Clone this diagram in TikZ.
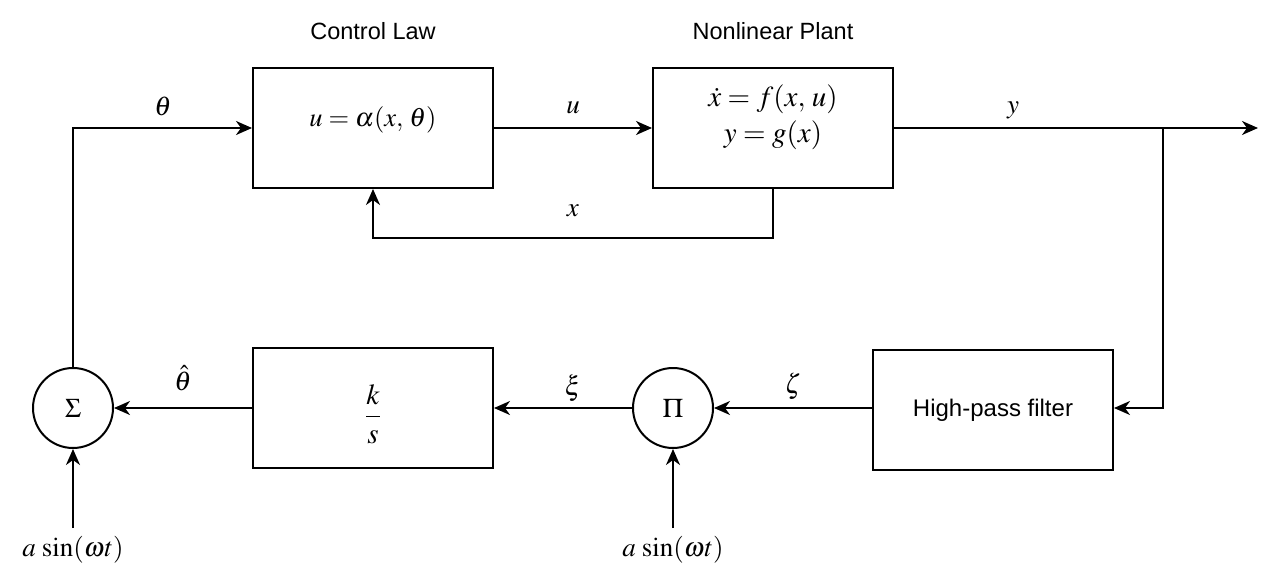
\documentclass[tikz,border=0pt]{standalone}
\usepackage{mathptmx}
\usepackage[no-math]{fontspec}
\newfontfamily\lab{Liberation Sans}
\usetikzlibrary{arrows.meta}
\tikzset{
  every picture/.style={line width=2pt},
  blk/.style={draw, line width=2pt, minimum width=240pt, minimum height=120pt, inner sep=0pt},
  junc/.style={draw, circle, line width=2pt, minimum size=80pt, inner sep=0pt, font=\fontsize{27}{30}\selectfont},
  lbl/.style={font=\fontsize{27}{30}\selectfont, inner sep=0pt},
  ttl/.style={font=\lab\fontsize{23.5}{27}\selectfont, inner sep=0pt},
  conn/.style={line width=2pt, -{Stealth[length=16pt,width=14pt,inset=5pt]}}
}
\begin{document}
\begin{tikzpicture}[x=1pt,y=-1pt]
\useasboundingbox (0,0) rectangle (1274,578);
% blocks
\node[blk] (cl) at (373,128) {};
\node[lbl, font=\fontsize{26.5}{30}\selectfont] (clt) at (373,120) {$u=\alpha(x,\,\theta)$};
\node[blk] (pl) at (773,128) {};
\node[lbl, align=center, font=\fontsize{29}{33}\selectfont] (plt) at (773,117) {$\dot x = f(x,\,u)$\\[3pt]$y=g(x)$};
\node[blk] (ks) at (373,408) {};
\node[lbl, font=\fontsize{29}{33}\selectfont] (kst) at (373,414) {$\displaystyle\frac{k}{s}$};
\node[blk, font=\lab\fontsize{24}{28}\selectfont] (hp) at (993,410) {High-pass filter};
\node[junc] (sum) at (73,408) {$\Sigma$};
\node[junc] (prod) at (673,408) {$\Pi$};
% titles
\node[ttl] (t1) at (373,31) {Control Law};
\node[ttl] (t2) at (773,31) {Nonlinear Plant};
% free ends
\coordinate (yout) at (1258,128);
\coordinate (br) at (1163,128);
\coordinate (s1) at (73,528);
\coordinate (s2) at (673,528);
% connectors
\draw[conn] (sum.north) |- (cl.west);
\draw[conn] (cl.east) -- (pl.west);
\draw[conn] (pl.east) -- (yout);
\draw[conn] (br) |- (hp.east |- 0,408);
\draw[conn] (pl.south) -- ++(0,49) -| (cl.south);
\draw[conn] (hp.west |- 0,408) -- (prod.east);
\draw[conn] (prod.west) -- (ks.east);
\draw[conn] (ks.west) -- (sum.east);
\draw[conn] (s1) -- (sum.south);
\draw[conn] (s2) -- (prod.south);
% labels
\node[lbl] (lth) at (163,106) {$\theta$};
\node[lbl] (lu) at (573,108) {$u$};
\node[lbl] (ly) at (1013,110) {$y$};
\node[lbl] (lx) at (573,211) {$x$};
\node[lbl] (lthh) at (183,378) {$\hat\theta$};
\node[lbl] (lxi) at (573,388) {$\xi$};
\node[lbl] (lze) at (793,386) {$\zeta$};
\node[lbl] (a1) at (73,550) {$a\,\sin(\omega t)$};
\node[lbl] (a2) at (673,550) {$a\,\sin(\omega t)$};
\end{tikzpicture}
\end{document}
